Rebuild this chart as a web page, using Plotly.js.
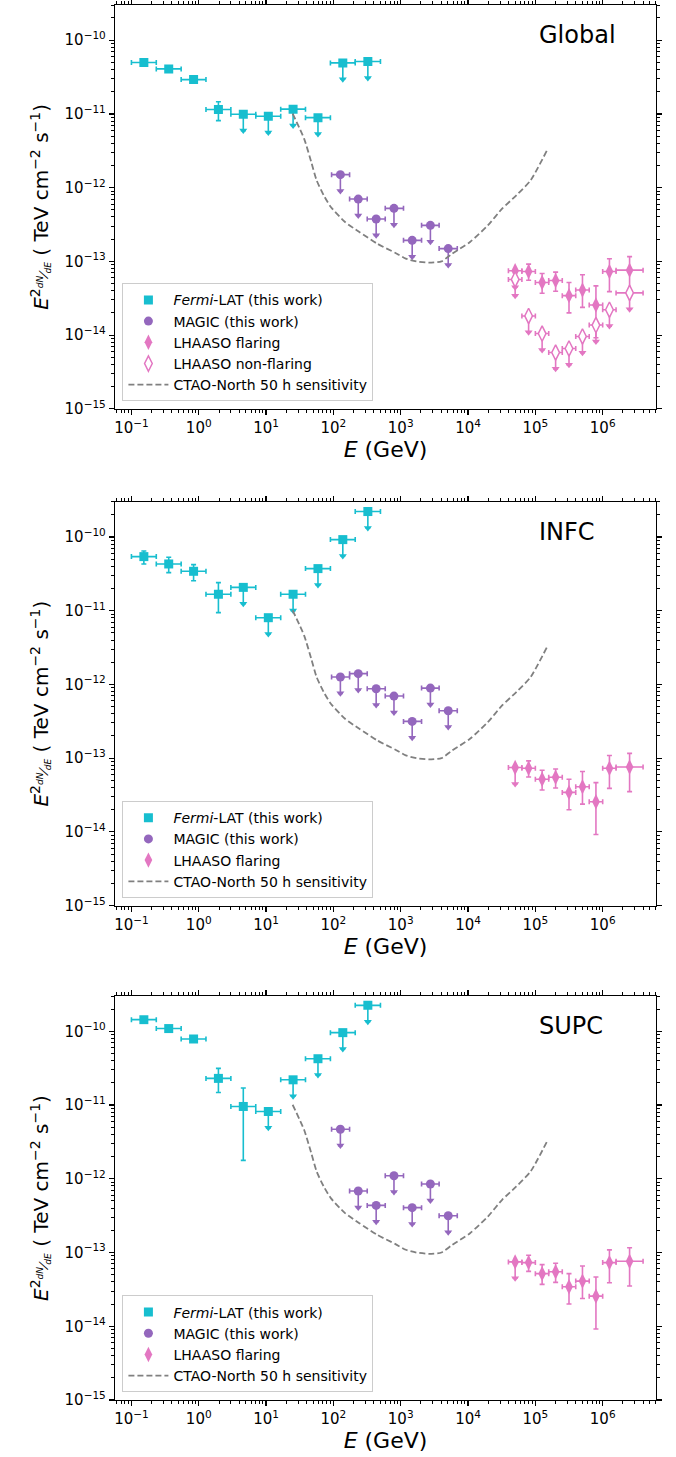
<!DOCTYPE html>
<html><head><meta charset="utf-8">
<script src="https://cdn.plot.ly/plotly-3.0.1.min.js"></script>
<style>body{margin:0;background:#fff;} #chart{width:676px;height:1457px;}</style>
</head><body><div id="chart"></div>
<script>
// ---------------- DATA ----------------
const panelNames = ['Global', 'INFC', 'SUPC'];

// axis tick labels
const xTickVals = [0.1, 1, 10, 100, 1e3, 1e4, 1e5, 1e6];
const xTickText = ['10<sup>\u22121</sup>', '10<sup>0</sup>', '10<sup>1</sup>', '10<sup>2</sup>', '10<sup>3</sup>', '10<sup>4</sup>', '10<sup>5</sup>', '10<sup>6</sup>'];
const yTickVals = [1e-15, 1e-14, 1e-13, 1e-12, 1e-11, 1e-10];
const yTickText = ['10<sup>\u221215</sup>', '10<sup>\u221214</sup>', '10<sup>\u221213</sup>', '10<sup>\u221212</sup>', '10<sup>\u221211</sup>', '10<sup>\u221210</sup>'];

// Fermi-LAT bins (GeV)
const fermiE   = [0.153, 0.358, 0.838, 1.96, 4.59, 10.8, 25.2, 59.0, 138, 325];
const fermiElo = [0.1, 0.234, 0.548, 1.28, 3.0, 7.03, 16.5, 38.5, 90.3, 211];
const fermiEhi = [0.234, 0.548, 1.28, 3.0, 7.03, 16.5, 38.5, 90.3, 211, 500];

const fermiGlobalF   = [4.98e-11, 4.08e-11, 2.92e-11, 1.15e-11, 9.9e-12, 9.3e-12, 1.16e-11, 8.9e-12, 4.92e-11, 5.13e-11];
const fermiGlobalUp  = [2.5e-12, 2.5e-12, 2.0e-12, 3.1e-12, 0, 0, 0, 0, 0, 0];
const fermiGlobalLo  = [2.5e-12, 2.5e-12, 2.0e-12, 3.4e-12, 0, 0, 0, 0, 0, 0];
const fermiGlobalUL  = [0, 0, 0, 0, 1, 1, 1, 1, 1, 1];

const fermiINFCF   = [5.41e-11, 4.3e-11, 3.42e-11, 1.67e-11, 2.07e-11, 8.03e-12, 1.67e-11, 3.72e-11, 9.2e-11, 2.21e-10];
const fermiINFCUp  = [1.04e-11, 1.0e-11, 0.79e-11, 0.73e-11, 0, 0, 0, 0, 0, 0];
const fermiINFCLo  = [1.11e-11, 1.02e-11, 0.87e-11, 0.73e-11, 0, 0, 0, 0, 0, 0];
const fermiINFCUL  = [0, 0, 0, 0, 1, 1, 1, 1, 1, 1];

const fermiSUPCF   = [1.44e-10, 1.09e-10, 7.87e-11, 2.30e-11, 9.57e-12, 8.18e-12, 2.20e-11, 4.25e-11, 9.6e-11, 2.25e-10];
const fermiSUPCUp  = [5e-12, 4e-12, 3e-12, 0.84e-11, 0.75e-11, 0, 0, 0, 0, 0];
const fermiSUPCLo  = [5e-12, 4e-12, 3e-12, 0.82e-11, 0.779e-11, 0, 0, 0, 0, 0];
const fermiSUPCUL  = [0, 0, 0, 0, 0, 1, 1, 1, 1, 1];

// MAGIC bins (GeV), all upper limits
const magicE   = [127, 234, 432, 794, 1480, 2760, 5080];
const magicElo = [94, 174, 318, 589, 1100, 2040, 3720];
const magicEhi = [174, 318, 589, 1100, 2040, 3720, 6920];
const magicGlobalF = [1.50e-12, 7.0e-13, 3.76e-13, 5.24e-13, 1.93e-13, 3.08e-13, 1.49e-13];
const magicINFCF   = [1.26e-12, 1.40e-12, 8.73e-13, 6.95e-13, 3.15e-13, 8.91e-13, 4.40e-13];
const magicSUPCF   = [4.70e-12, 6.82e-13, 4.36e-13, 1.10e-12, 4.06e-13, 8.49e-13, 3.15e-13];

// LHAASO bins (GeV)
const lhaasoE   = [5.01e4, 7.94e4, 1.26e5, 2.0e5, 3.16e5, 5.01e5, 7.94e5, 1.26e6, 2.51e6];
const lhaasoElo = [3.98e4, 6.31e4, 1.0e5, 1.58e5, 2.51e5, 3.98e5, 6.31e5, 1.0e6, 1.58e6];
const lhaasoEhi = [6.31e4, 1.0e5, 1.58e5, 2.51e5, 3.98e5, 6.31e5, 1.0e6, 1.58e6, 3.98e6];
const flareF  = [7.46e-14, 7.3e-14, 5.17e-14, 5.5e-14, 3.43e-14, 4.1e-14, 2.56e-14, 7.3e-14, 7.6e-14];
const flareUp = [0, 1.88e-14, 1.68e-14, 1.64e-14, 1.75e-14, 2.48e-14, 2.1e-14, 3.57e-14, 3.99e-14];
const flareLo = [0, 1.74e-14, 1.47e-14, 1.56e-14, 1.43e-14, 1.72e-14, 1.64e-14, 3.41e-14, 4.08e-14];
const flareUL = [1, 0, 0, 0, 0, 0, 0, 0, 0];
const nonFlareF  = [5.69e-14, 1.82e-14, 1.05e-14, 5.81e-15, 6.59e-15, 9.6e-15, 1.37e-14, 2.21e-14, 3.74e-14];
const nonFlareUL = [1, 1, 1, 1, 1, 1, 1, 1, 1];

// CTAO-North 50 h sensitivity (GeV, TeV cm^-2 s^-1)
const ctaoE = [24.8, 36.7, 46.9, 56.3, 71.8, 91.6, 149, 243, 448, 824, 1190, 1710, 2630, 4030, 5810, 10700, 19700, 32100, 52200, 85100, 149000];
const ctaoF = [1.01e-11, 4.62e-12, 2.23e-12, 1.26e-12, 7.87e-13, 5.47e-13, 3.42e-13, 2.50e-13, 1.74e-13, 1.31e-13, 1.09e-13, 1.0e-13, 9.6e-14, 1.0e-13, 1.27e-13, 1.83e-13, 3.08e-13, 5.19e-13, 7.87e-13, 1.26e-12, 3.21e-12];

// ---------------- STYLE ----------------
const C_FERMI = '#17becf', C_MAGIC = '#9467bd', C_LHAASO = '#e377c2', C_CTAO = '#808080';
const FONT = 'DejaVu Sans, Arial, sans-serif';
const UL_FRAC = 0.6;   // arrow end as fraction of the limit value

const panels = [
  {F: fermiGlobalF, up: fermiGlobalUp, lo: fermiGlobalLo, ul: fermiGlobalUL, magic: magicGlobalF, nonflare: true},
  {F: fermiINFCF, up: fermiINFCUp, lo: fermiINFCLo, ul: fermiINFCUL, magic: magicINFCF, nonflare: false},
  {F: fermiSUPCF, up: fermiSUPCUp, lo: fermiSUPCLo, ul: fermiSUPCUL, magic: magicSUPCF, nonflare: false}
];

function seriesTraces(opts) {
  const {E, Elo, Ehi, F, up, lo, ul, color, symbol, size, fill, name, ax, legend, showlegend, group} = opts;
  const traces = [];
  const upArr = F.map((f, i) => ul[i] ? 0 : up[i]);
  const loArr = F.map((f, i) => ul[i] ? f * (1 - UL_FRAC) : lo[i]);
  traces.push({
    type: 'scatter', mode: 'markers', x: E, y: F, xaxis: 'x' + ax, yaxis: 'y' + ax,
    name: name, legend: legend, showlegend: showlegend, legendgroup: group,
    marker: {symbol: symbol, size: size, color: fill || color, line: {color: color, width: fill ? 1.5 : 0}},
    error_x: {type: 'data', symmetric: false, array: E.map((e, i) => Ehi[i] - e), arrayminus: E.map((e, i) => e - Elo[i]), color: color, thickness: 1.6, width: 2.5},
    error_y: {type: 'data', symmetric: false, array: upArr, arrayminus: loArr, color: color, thickness: 1.6, width: 2.5},
    hoverinfo: 'x+y'
  });
  const ax2 = [], ay2 = [];
  F.forEach((f, i) => { if (ul[i]) { ax2.push(E[i]); ay2.push(f * UL_FRAC); } });
  if (ax2.length) {
    traces.push({
      type: 'scatter', mode: 'markers', x: ax2, y: ay2, xaxis: 'x' + ax, yaxis: 'y' + ax,
      showlegend: false, legendgroup: group, hoverinfo: 'skip',
      marker: {symbol: 'triangle-down', size: 7, color: color, line: {width: 0}}
    });
  }
  return traces;
}

const traces = [];
const layout = {
  width: 676, height: 1457,
  margin: {l: 115, r: 20, t: 5, b: 56.5},
  paper_bgcolor: '#fff', plot_bgcolor: '#fff',
  font: {family: FONT, size: 15, color: '#000'},
  showlegend: true,
  annotations: []
};

const domains = [[0.7105, 1], [0.3544, 0.6439], [0, 0.2895]];
const legendY = [0.7159, 0.3598, 0.0054];
const topPx = [5, 502, 996.5];

panels.forEach((p, k) => {
  const ax = k === 0 ? '' : String(k + 1);
  const leg = k === 0 ? 'legend' : 'legend' + (k + 1);
  const zeros = p.magic.map(() => 0);
  const ones = p.magic.map(() => 1);
  traces.push(...seriesTraces({E: fermiE, Elo: fermiElo, Ehi: fermiEhi, F: p.F, up: p.up, lo: p.lo, ul: p.ul,
    color: C_FERMI, symbol: 'square', size: 9, name: '<i>Fermi</i>-LAT (this work)', ax: ax, legend: leg, showlegend: true, group: 'fermi' + k}));
  traces.push(...seriesTraces({E: magicE, Elo: magicElo, Ehi: magicEhi, F: p.magic, up: zeros, lo: zeros, ul: ones,
    color: C_MAGIC, symbol: 'circle', size: 9, name: 'MAGIC (this work)', ax: ax, legend: leg, showlegend: true, group: 'magic' + k}));
  traces.push(...seriesTraces({E: lhaasoE, Elo: lhaasoElo, Ehi: lhaasoEhi, F: flareF, up: flareUp, lo: flareLo, ul: flareUL,
    color: C_LHAASO, symbol: 'diamond-tall', size: 11, name: 'LHAASO flaring', ax: ax, legend: leg, showlegend: true, group: 'flare' + k}));
  if (p.nonflare) {
    const z9 = nonFlareF.map(() => 0);
    traces.push(...seriesTraces({E: lhaasoE, Elo: lhaasoElo, Ehi: lhaasoEhi, F: nonFlareF, up: z9, lo: z9, ul: nonFlareUL,
      color: C_LHAASO, symbol: 'diamond-tall', size: 11, fill: '#ffffff', name: 'LHAASO non-flaring', ax: ax, legend: leg, showlegend: true, group: 'nonflare' + k}));
  }
  traces.push({type: 'scatter', mode: 'lines', x: ctaoE, y: ctaoF, xaxis: 'x' + ax, yaxis: 'y' + ax,
    name: 'CTAO-North 50 h sensitivity', legend: leg, showlegend: true,
    line: {color: C_CTAO, width: 1.8, dash: '6px,3px', shape: 'spline', smoothing: 0.6}, hoverinfo: 'skip'});

  const axCommon = {
    type: 'log', showline: true, linecolor: '#000', linewidth: 1.2, mirror: 'allticks',
    ticks: 'outside', ticklen: 5, tickwidth: 1.2, tickcolor: '#000', showgrid: false, zeroline: false,
    tickmode: 'array', tickfont: {family: FONT, size: 15, color: '#000'},
    minor: {ticks: 'outside', ticklen: 3, tickwidth: 1, tickcolor: '#000', dtick: 'D1', showgrid: false}
  };
  layout['xaxis' + ax] = Object.assign({}, axCommon, {
    domain: [0, 1], anchor: 'y' + ax, range: [-1.244, 6.792],
    tickvals: xTickVals, ticktext: xTickText,
    title: {text: '<i>E</i> (GeV)', font: {family: FONT, size: 22, color: '#000'}, standoff: 2}
  });
  layout['yaxis' + ax] = Object.assign({}, axCommon, {
    domain: domains[k], anchor: 'x' + ax, range: [-15, Math.log10(3e-10)],
    tickvals: yTickVals, ticktext: yTickText,
    title: {text: '<i>E</i><sup>2</sup><span style="font-size:13px"><i><sup>dN</sup>\u2044<sub>dE</sub></i></span> ( TeV cm<sup>\u22122</sup> s<sup>\u22121</sup>)', font: {family: FONT, size: 20, color: '#000'}, standoff: 10}
  });
  layout[leg] = {
    x: 0.0137, xanchor: 'left', y: legendY[k], yanchor: 'bottom',
    bgcolor: 'rgba(255,255,255,0.8)', bordercolor: '#cccccc', borderwidth: 1,
    font: {family: FONT, size: 14, color: '#000'}, tracegroupgap: 0, itemwidth: 40
  };
  layout.annotations.push({
    xref: 'paper', yref: 'paper', x: 0.78, xanchor: 'left',
    y: 1 - (topPx[k] + 30 - 5) / 1395.5, yanchor: 'middle',
    text: panelNames[k], showarrow: false, font: {family: FONT, size: 24, color: '#000'}
  });
});

Plotly.newPlot('chart', traces, layout, {displayModeBar: false, staticPlot: true});
</script>
</body></html>
